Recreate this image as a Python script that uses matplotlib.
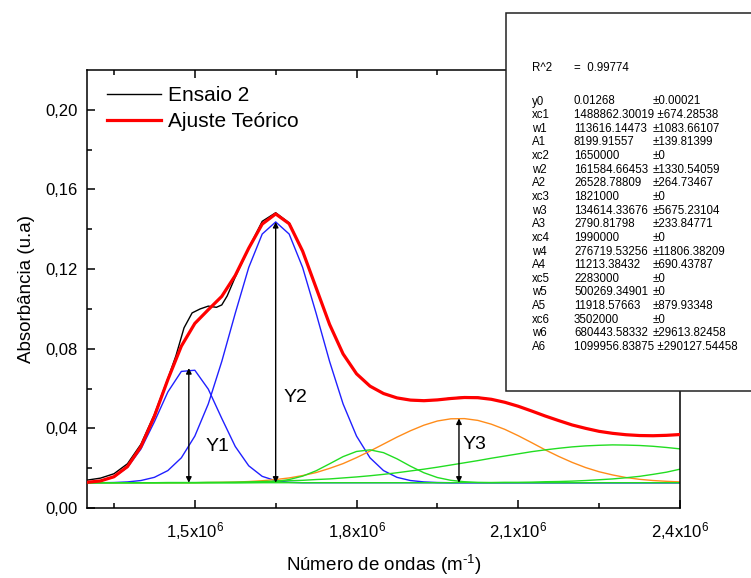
import matplotlib
matplotlib.use('Agg')
import matplotlib.pyplot as plt
from matplotlib.patches import Rectangle
from matplotlib.ticker import FixedLocator

plt.rcParams['font.family'] = ['Liberation Sans', 'DejaVu Sans']
plt.rcParams['mathtext.fontset'] = 'custom'
plt.rcParams['mathtext.rm'] = 'Liberation Sans'
plt.rcParams['mathtext.it'] = 'Liberation Sans:italic'

# número de onda, em 10^6 m^-1
x = [1.300, 1.325, 1.350, 1.375, 1.400, 1.425, 1.450, 1.475, 1.500, 1.525,
     1.550, 1.575, 1.600, 1.625, 1.650, 1.675, 1.700, 1.725, 1.750, 1.775,
     1.800, 1.825, 1.850, 1.875, 1.900, 1.925, 1.950, 1.975, 2.000, 2.025,
     2.050, 2.075, 2.100, 2.125, 2.150, 2.175, 2.200, 2.225, 2.250, 2.275,
     2.300, 2.325, 2.350, 2.375, 2.400]

# ajuste teórico (soma dos picos)
ajuste = [0.0129, 0.0136, 0.0157, 0.0208, 0.0308, 0.0461, 0.0645, 0.0813, 0.0927, 0.0996,
          0.1063, 0.1168, 0.1305, 0.1426, 0.1477, 0.1428, 0.1290, 0.1106, 0.0922, 0.0774,
          0.0674, 0.0612, 0.0575, 0.0553, 0.0542, 0.0539, 0.0543, 0.0550, 0.0555, 0.0554,
          0.0546, 0.0531, 0.0511, 0.0487, 0.0462, 0.0439, 0.0417, 0.0400, 0.0385, 0.0375,
          0.0368, 0.0364, 0.0363, 0.0365, 0.0369]

# picos individuais
pico1 = [0.0129, 0.0136, 0.0156, 0.0204, 0.0296, 0.0433, 0.0583, 0.0686, 0.0692, 0.0597,
         0.0450, 0.0309, 0.0212, 0.0159, 0.0137, 0.0129, 0.0127, 0.0127, 0.0127, 0.0127,
         0.0127, 0.0127, 0.0127, 0.0127, 0.0127, 0.0127, 0.0127, 0.0127, 0.0127, 0.0127,
         0.0127, 0.0127, 0.0127, 0.0127, 0.0127, 0.0127, 0.0127, 0.0127, 0.0127, 0.0127,
         0.0127, 0.0127, 0.0127, 0.0127, 0.0127]
pico2 = [0.0127, 0.0127, 0.0128, 0.0131, 0.0138, 0.0154, 0.0188, 0.0252, 0.0361, 0.0523,
         0.0736, 0.0978, 0.1208, 0.1376, 0.1437, 0.1376, 0.1208, 0.0978, 0.0736, 0.0523,
         0.0361, 0.0252, 0.0188, 0.0154, 0.0138, 0.0131, 0.0128, 0.0127, 0.0127, 0.0127,
         0.0127, 0.0127, 0.0127, 0.0127, 0.0127, 0.0127, 0.0127, 0.0127, 0.0127, 0.0127,
         0.0127, 0.0127, 0.0127, 0.0127, 0.0127]
pico3 = [0.0127, 0.0127, 0.0127, 0.0127, 0.0127, 0.0127, 0.0127, 0.0127, 0.0127, 0.0127,
         0.0127, 0.0127, 0.0128, 0.0129, 0.0133, 0.0143, 0.0160, 0.0187, 0.0222, 0.0258,
         0.0284, 0.0292, 0.0278, 0.0247, 0.0210, 0.0177, 0.0153, 0.0139, 0.0132, 0.0128,
         0.0127, 0.0127, 0.0127, 0.0127, 0.0127, 0.0127, 0.0127, 0.0127, 0.0127, 0.0127,
         0.0127, 0.0127, 0.0127, 0.0127, 0.0127]
pico4 = [0.0127, 0.0127, 0.0127, 0.0127, 0.0127, 0.0127, 0.0127, 0.0127, 0.0127, 0.0128,
         0.0129, 0.0130, 0.0133, 0.0137, 0.0143, 0.0151, 0.0163, 0.0178, 0.0199, 0.0223,
         0.0253, 0.0286, 0.0321, 0.0356, 0.0388, 0.0416, 0.0437, 0.0448, 0.0449, 0.0440,
         0.0421, 0.0395, 0.0363, 0.0328, 0.0292, 0.0259, 0.0229, 0.0203, 0.0182, 0.0166,
         0.0153, 0.0144, 0.0138, 0.0134, 0.0131]
pico5 = [0.0127, 0.0127, 0.0127, 0.0127, 0.0127, 0.0127, 0.0128, 0.0128, 0.0128, 0.0129,
         0.0129, 0.0130, 0.0131, 0.0133, 0.0135, 0.0137, 0.0139, 0.0143, 0.0146, 0.0151,
         0.0156, 0.0162, 0.0169, 0.0177, 0.0186, 0.0195, 0.0205, 0.0216, 0.0227, 0.0238,
         0.0250, 0.0261, 0.0272, 0.0283, 0.0292, 0.0300, 0.0307, 0.0312, 0.0315, 0.0317,
         0.0316, 0.0314, 0.0310, 0.0304, 0.0297]
pico6 = [0.0127, 0.0127, 0.0127, 0.0127, 0.0127, 0.0127, 0.0127, 0.0127, 0.0127, 0.0127,
         0.0127, 0.0127, 0.0127, 0.0127, 0.0127, 0.0127, 0.0127, 0.0127, 0.0127, 0.0127,
         0.0127, 0.0127, 0.0127, 0.0127, 0.0127, 0.0127, 0.0127, 0.0127, 0.0128, 0.0128,
         0.0128, 0.0129, 0.0129, 0.0130, 0.0132, 0.0133, 0.0135, 0.0138, 0.0142, 0.0146,
         0.0152, 0.0159, 0.0169, 0.0180, 0.0195]

# curva experimental (Ensaio 2)
ensaio_x = [1.300, 1.325, 1.350, 1.375, 1.400, 1.425, 1.450, 1.465, 1.480, 1.495,
            1.510, 1.525, 1.540, 1.550, 1.560, 1.575, 1.600, 1.625, 1.650, 1.675,
            1.700, 1.725, 1.750, 1.775, 1.800, 1.825, 1.850, 1.875, 1.900, 1.925,
            1.950, 1.975, 2.000, 2.025, 2.050, 2.075, 2.100, 2.125, 2.150, 2.175,
            2.200, 2.225, 2.250, 2.275, 2.300, 2.325, 2.350, 2.375, 2.400]
ensaio = [0.0140, 0.0150, 0.0172, 0.0222, 0.0320, 0.0470, 0.0650, 0.0765, 0.0905, 0.0980,
          0.1000, 0.1014, 0.1008, 0.1020, 0.1065, 0.1160, 0.1305, 0.1440, 0.1483, 0.1432,
          0.1290, 0.1106, 0.0922, 0.0774, 0.0674, 0.0612, 0.0575, 0.0553, 0.0541, 0.0538,
          0.0543, 0.0552, 0.0557, 0.0556, 0.0546, 0.0531, 0.0511, 0.0487, 0.0462, 0.0439,
          0.0417, 0.0400, 0.0385, 0.0375, 0.0368, 0.0364, 0.0363, 0.0365, 0.0369]

# setas Y1, Y2, Y3: centro, base (y0) e altura do pico
setas_x = [1.4889, 1.650, 1.990]
setas_topo = [0.0703, 0.1437, 0.0450]
setas_nome = ['Y1', 'Y2', 'Y3']
setas_texto = [(1.542, 0.0308), (1.687, 0.0555), (2.019, 0.0320)]
y0 = 0.01268

# tabela de parâmetros do ajuste
param_nome = ['y0', 'xc1', 'w1', 'A1', 'xc2', 'w2', 'A2', 'xc3', 'w3', 'A3',
              'xc4', 'w4', 'A4', 'xc5', 'w5', 'A5', 'xc6', 'w6', 'A6']
param_valor = ['0.01268', '1488862.30019', '113616.14473', '8199.91557', '1650000',
               '161584.66453', '26528.78809', '1821000', '134614.33676', '2790.81798',
               '1990000', '276719.53256', '11213.38432', '2283000', '500269.34901',
               '11918.57663', '3502000', '680443.58332', '1099956.83875']
param_erro = ['±0.00021', '±674.28538', '±1083.66107', '±139.81399', '±0', '±1330.54059',
              '±264.73467', '±0', '±5675.23104', '±233.84771', '±0', '±11806.38209',
              '±690.43787', '±0', '±0', '±879.93348', '±0', '±29613.82458', '±290127.54458']

W, H = 751, 578
fig = plt.figure(figsize=(W / 100, H / 100), dpi=100)
ax = fig.add_axes([87 / W, 1 - 508 / H, (680 - 87) / W, (508 - 70) / H])

ax.plot(ensaio_x, ensaio, color='black', lw=1, label='Ensaio 2', zorder=3)
ax.plot(x, ajuste, color='red', lw=2.3, label='Ajuste Teórico', zorder=4)
ax.plot(x, pico1, color='#2020ff', lw=1, zorder=2)
ax.plot(x, pico2, color='#2020ff', lw=1, zorder=2)
ax.plot(x, pico4, color='#ff8c1a', lw=1, zorder=2)
ax.plot(x, pico3, color='#22dd22', lw=1, zorder=2)
ax.plot(x, pico5, color='#22dd22', lw=1, zorder=2)
ax.plot(x, pico6, color='#22dd22', lw=1, zorder=2)

for sx, st, nome, pos in zip(setas_x, setas_topo, setas_nome, setas_texto):
    ax.annotate('', xy=(sx, st), xytext=(sx, y0),
                arrowprops=dict(arrowstyle='<|-|>', color='black', lw=1,
                                mutation_scale=8, shrinkA=0, shrinkB=0), zorder=5)
    ax.text(pos[0], pos[1], nome, fontsize=14, ha='center', va='center')

ax.set_xlim(1.3, 2.4)
ax.set_ylim(0, 0.22)
ax.xaxis.set_major_locator(FixedLocator([1.5, 1.8, 2.1, 2.4]))
ax.xaxis.set_minor_locator(FixedLocator([1.35, 1.65, 1.95, 2.25]))
ax.set_xticklabels(['1,5x10$^6$', '1,8x10$^6$', '2,1x10$^6$', '2,4x10$^6$'])
ax.yaxis.set_major_locator(FixedLocator([0, 0.04, 0.08, 0.12, 0.16, 0.20]))
ax.yaxis.set_minor_locator(FixedLocator([0.02, 0.06, 0.10, 0.14, 0.18]))
ax.set_yticklabels(['0,00', '0,04', '0,08', '0,12', '0,16', '0,20'])
ax.tick_params(which='both', direction='in', top=True, right=False, width=1.1, labelsize=12)
ax.tick_params(which='major', length=6)
ax.tick_params(which='minor', length=3.5)
ax.tick_params(axis='x', pad=9)
ax.tick_params(axis='y', pad=7)
for s in ax.spines.values():
    s.set_linewidth(1.1)

ax.set_xlabel(r'Número de ondas (m$^{\text{-}1}$)', fontsize=13.5, va='center')
ax.xaxis.set_label_coords(0.5, -(565 - 508) / (508 - 70))
ax.set_ylabel('Absorbância (u.a)', fontsize=13.5, va='center')
ax.yaxis.set_label_coords((27 - 87) / (680 - 87), 0.5)

ax.legend(loc='upper left', bbox_to_anchor=(107 / W, 1 - 86 / H), bbox_transform=fig.transFigure,
          frameon=False, fontsize=15, handlelength=2.6, handletextpad=0.35,
          labelspacing=0.35, borderpad=0, borderaxespad=0)

# caixa com os parâmetros
fig.add_artist(Rectangle((506 / W, 1 - 391 / H), (770 - 506) / W, (391 - 13) / H,
                         transform=fig.transFigure, facecolor='white', edgecolor='#222222',
                         lw=1.1, zorder=10))
fs = 8.3
fig.text(532 / W, 1 - 68 / H, 'R^2', fontsize=fs, va='center', zorder=11)
fig.text(574 / W, 1 - 68 / H, '=  0.99774', fontsize=fs, va='center', zorder=11)
for i, (nome, valor, erro) in enumerate(zip(param_nome, param_valor, param_erro)):
    yy = 1 - (101.5 + i * 13.64) / H
    fig.text(532 / W, yy, nome, fontsize=fs, va='center', zorder=11)
    if len(valor) >= 13:
        fig.text(574 / W, yy, valor + ' ' + erro, fontsize=fs, va='center', zorder=11)
    else:
        fig.text(574 / W, yy, valor, fontsize=fs, va='center', zorder=11)
        fig.text(653 / W, yy, erro, fontsize=fs, va='center', zorder=11)

fig.savefig('out.png', dpi=100)
